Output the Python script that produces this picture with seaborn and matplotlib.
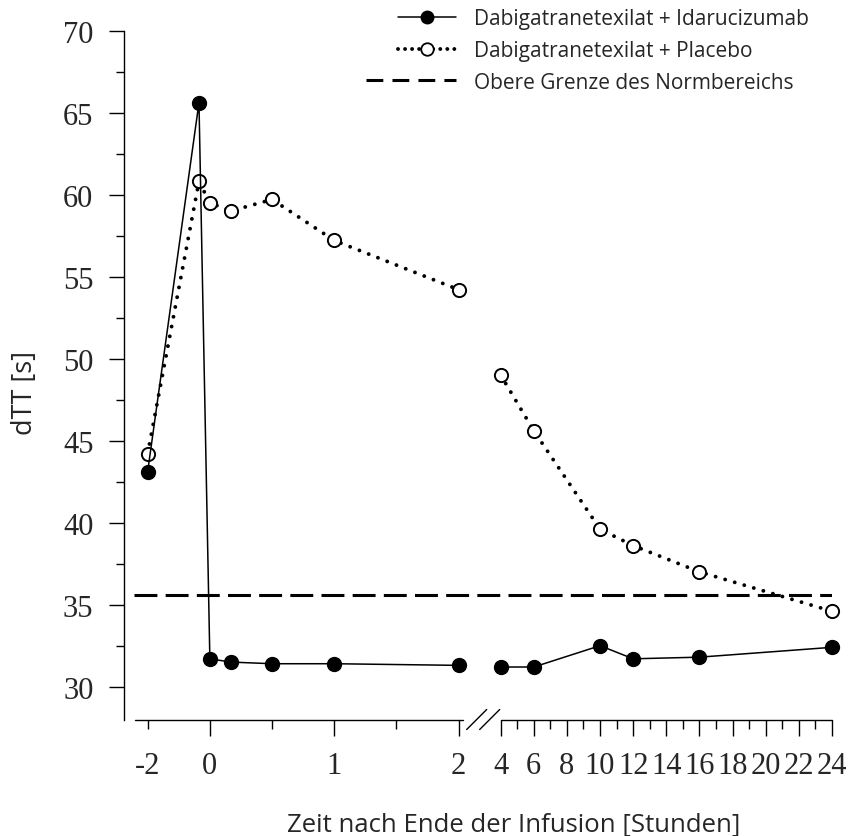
import numpy as np
import pandas as pd
import matplotlib
matplotlib.use("Agg")
import matplotlib.pyplot as plt
from matplotlib.lines import Line2D
from matplotlib.legend_handler import HandlerLine2D
from matplotlib.transforms import IdentityTransform
import seaborn as sns

# --- data (hours relative to end of infusion) ---
hours = [-2, -0.35, 0, 0.17, 0.5, 1, 2, 4, 6, 10, 12, 16, 24]
dtt_idarucizumab = [43.1, 65.6, 31.7, 31.5, 31.4, 31.4, 31.3, 31.2, 31.2, 32.5, 31.7, 31.8, 32.4]
dtt_placebo = [44.2, 60.8, 59.5, 59.0, 59.7, 57.2, 54.2, 49.0, 45.6, 39.6, 38.6, 37.0, 34.6]
upper_normal = 35.6

label_ida = "Dabigatranetexilat + Idarucizumab"
label_pla = "Dabigatranetexilat + Placebo"
label_norm = "Obere Grenze des Normbereichs"

major_x = [0, 1, 2] + list(range(4, 25, 2))
minor_x = [-2, 0.5, 1.5] + list(range(5, 24, 2))
minor_x_labels = ["-2"] + [""] * (len(minor_x) - 1)

# broken time axis: -2..0 compressed, 0..2 wide, gap, 4..24 narrow
BRK_H = [-10, 0, 2, 4, 24, 40]
BRK_P = [-2.5, 0, 2, 2.337, 5.0, 5.0 + 16 * 0.13315]


def fwd(x):
    return np.interp(x, BRK_H, BRK_P)


def inv(p):
    return np.interp(p, BRK_P, BRK_H)


class LongHandle(HandlerLine2D):
    """Legend handle drawn further to the left than the others."""

    def create_artists(self, legend, orig_handle, xdescent, ydescent,
                       width, height, fontsize, trans):
        extra = 0.55 * width
        return super().create_artists(legend, orig_handle, xdescent + extra, ydescent,
                                      width + extra, height, fontsize, trans)


df = pd.DataFrame({
    "hours": hours * 2,
    "dTT": dtt_idarucizumab + dtt_placebo,
    "series": [label_ida] * len(hours) + [label_pla] * len(hours),
})
df["seg"] = np.where(df["hours"] <= 2, "pre", "post")

sns.set_theme(style="white")
plt.rcParams["font.family"] = ["Liberation Serif", "DejaVu Serif"]
label_font = "Open Sans"

fig = plt.figure(figsize=(8.49, 8.37), dpi=100)
ax = fig.add_axes([124 / 849, 1 - 720.5 / 837, (832 - 124) / 849, (720.5 - 31.5) / 837])
ax.set_xscale("function", functions=(fwd, inv))

dotted = (0, (0.01, 2.55))
dashed = (0, (7.5, 2.7))

ax.axhline(upper_normal, xmin=0.014, xmax=1.0, color="black", lw=2.2, ls=dashed, zorder=1)

sns.lineplot(data=df[df["series"] == label_pla], x="hours", y="dTT", units="seg",
             estimator=None, sort=False, ax=ax, color="black", lw=2.8, ls=dotted,
             dash_capstyle="round", marker="o", markersize=9.5, markerfacecolor="white",
             markeredgecolor="black", markeredgewidth=1.4, clip_on=False, zorder=3,
             legend=False)
sns.lineplot(data=df[df["series"] == label_ida], x="hours", y="dTT", units="seg",
             estimator=None, sort=False, ax=ax, color="black", lw=1.1,
             marker="o", markersize=10, markerfacecolor="black",
             markeredgecolor="black", markeredgewidth=1.0, clip_on=False, zorder=4,
             legend=False)

ax.set_ylim(28, 70)
ax.set_xlim(-2.76, 24)
ax.set_yticks(np.arange(30, 71, 5))
ax.set_yticks(np.arange(32.5, 70, 5), minor=True)
ax.set_xticks(major_x, labels=[str(v) for v in major_x])
ax.set_xticks(minor_x, labels=minor_x_labels, minor=True)

ax.tick_params(axis="y", which="major", direction="out", length=11, width=1.0,
               pad=11, labelsize=22, left=True, color="black")
ax.tick_params(axis="y", which="minor", direction="out", length=5.5, width=1.0,
               left=True, color="black")
ax.tick_params(axis="x", which="major", direction="out", length=11.5, width=1.0,
               pad=11, labelsize=22, bottom=True, color="black")
ax.tick_params(axis="x", which="minor", direction="out", length=6.5, width=1.0,
               pad=16, labelsize=22, bottom=True, color="black")

for side in ["top", "right", "bottom"]:
    ax.spines[side].set_visible(False)
ax.spines["left"].set_color("black")
ax.spines["left"].set_linewidth(1.0)

# axis line with break marks
xt = ax.get_xaxis_transform()
ax.plot([-2.4, 2.2], [0, 0], transform=xt, color="black", lw=1.0, clip_on=False)
ax.plot([4, 24], [0, 0], transform=xt, color="black", lw=1.0, clip_on=False)
fig.canvas.draw()
bx, by = ax.transData.transform((3, 28))
for dx in (0, 13):
    fig.add_artist(Line2D([bx - 13 + dx, bx + 7 + dx], [by - 10, by + 10],
                          transform=IdentityTransform(), color="black", lw=1.0))

ax.set_xlabel("Zeit nach Ende der Infusion [Stunden]", family=label_font,
              fontsize=18.5, labelpad=23)
ax.set_ylabel("dTT [s]", family=label_font, fontsize=19.5, labelpad=17)
ax.xaxis.label.set_x(0.551)
ax.yaxis.label.set_y(0.476)
ax.grid(False)

handles = [
    Line2D([], [], color="black", lw=1.1, marker="o", markersize=9,
           markerfacecolor="black", markeredgecolor="black"),
    Line2D([], [], color="black", lw=2.8, ls=(0, (0.01, 1.8)), dash_capstyle="round",
           marker="o", markersize=9, markerfacecolor="white", markeredgecolor="black",
           markeredgewidth=1.3),
    Line2D([], [], color="black", lw=2.2, ls=(0, (5.5, 3.0))),
]
leg = fig.legend(handles, [label_ida, label_pla, label_norm], loc="upper left",
                 bbox_to_anchor=(398 / 849, 1 - 9 / 837), frameon=False, numpoints=1,
                 prop={"family": label_font, "size": 15}, handlelength=2.8,
                 handletextpad=0.87, labelspacing=0.52, borderpad=0, borderaxespad=0,
                 handler_map={handles[2]: LongHandle()})

fig.savefig("out.png", dpi=100)
